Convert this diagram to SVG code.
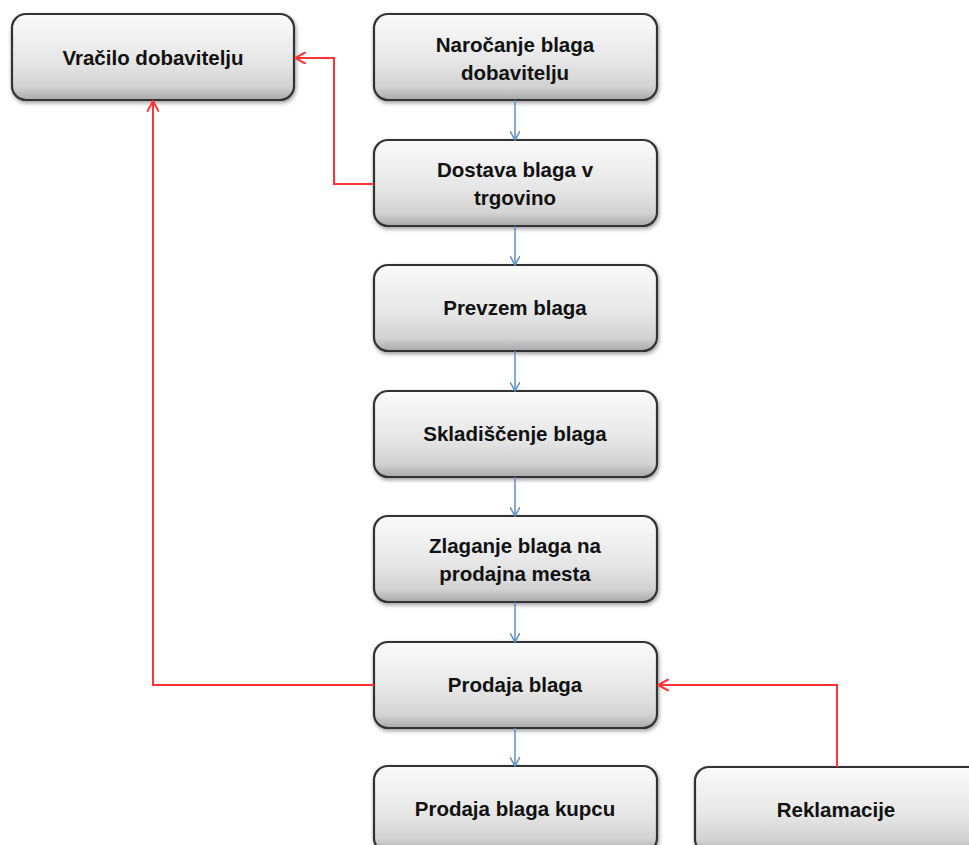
<svg xmlns="http://www.w3.org/2000/svg" width="969" height="845" viewBox="0 0 969 845">
<defs>
<linearGradient id="g" x1="0" y1="0" x2="0" y2="1">
<stop offset="0" stop-color="#fafafa"/>
<stop offset="0.55" stop-color="#e6e6e6"/>
<stop offset="0.85" stop-color="#d2d2d2"/>
<stop offset="1" stop-color="#a8a8a8"/>
</linearGradient>
<filter id="sh" x="-5%" y="-10%" width="115%" height="130%">
<feGaussianBlur in="SourceAlpha" stdDeviation="2"/>
<feOffset dx="1" dy="2"/>
<feComponentTransfer><feFuncA type="linear" slope="0.4"/></feComponentTransfer>
<feMerge><feMergeNode/><feMergeNode in="SourceGraphic"/></feMerge>
</filter>
<marker id="ab" viewBox="0 0 10 10" refX="9" refY="5" markerWidth="10" markerHeight="10" markerUnits="userSpaceOnUse" orient="auto">
<path d="M0,0 L9,5 L0,10" fill="none" stroke="#5b8ec9" stroke-width="1.5"/>
</marker>
<marker id="ar" viewBox="0 0 12 12" refX="11" refY="6" markerWidth="12" markerHeight="12" markerUnits="userSpaceOnUse" orient="auto">
<path d="M0,0 L11,6 L0,12" fill="none" stroke="#ff3333" stroke-width="2"/>
</marker>
</defs>
<style>
.box{fill:url(#g);stroke:#333;stroke-width:2.2;filter:url(#sh)}
.t{font-family:"Liberation Sans",Arial,sans-serif;font-weight:bold;font-size:20.5px;fill:#111;text-anchor:middle}
.blue{stroke:#5b8ec9;stroke-width:1.5;fill:none;marker-end:url(#ab)}
.red{stroke:#ff3333;stroke-width:2;fill:none;marker-end:url(#ar)}
</style>
<rect width="969" height="845" fill="#fff"/>
<g id="n-vracilo"><rect class="box" x="12" y="14" width="282" height="86" rx="14"/><text class="t" x="153" y="65">Vračilo dobavitelju</text></g>
<g id="n-narocanje"><rect class="box" x="374" y="14" width="283" height="86" rx="14"/><text class="t" x="515" y="52">Naročanje blaga</text><text class="t" x="515" y="80">dobavitelju</text></g>
<g id="n-dostava"><rect class="box" x="374" y="140" width="283" height="86" rx="14"/><text class="t" x="515" y="177">Dostava blaga v</text><text class="t" x="515" y="205">trgovino</text></g>
<g id="n-prevzem"><rect class="box" x="374" y="265" width="283" height="86" rx="14"/><text class="t" x="515" y="315">Prevzem blaga</text></g>
<g id="n-skladiscenje"><rect class="box" x="374" y="391" width="283" height="86" rx="14"/><text class="t" x="515" y="441">Skladiščenje blaga</text></g>
<g id="n-zlaganje"><rect class="box" x="374" y="516" width="283" height="86" rx="14"/><text class="t" x="515" y="553">Zlaganje blaga na</text><text class="t" x="515" y="581">prodajna mesta</text></g>
<g id="n-prodaja"><rect class="box" x="374" y="642" width="283" height="86" rx="14"/><text class="t" x="515" y="692">Prodaja blaga</text></g>
<g id="n-kupcu"><rect class="box" x="374" y="766" width="283" height="86" rx="14"/><text class="t" x="515" y="816">Prodaja blaga kupcu</text></g>
<g id="n-reklamacije"><rect class="box" x="695" y="767" width="290" height="86" rx="14"/><text class="t" x="836" y="817">Reklamacije</text></g>
<g id="connectors">
<path class="blue" d="M515,100 V140"/>
<path class="blue" d="M515,226 V265"/>
<path class="blue" d="M515,351 V391"/>
<path class="blue" d="M515,477 V516"/>
<path class="blue" d="M515,602 V642"/>
<path class="blue" d="M515,728 V766"/>
<path class="red" d="M374,184 H334 V58 H295"/>
<path class="red" d="M374,685 H153 V101"/>
<path class="red" d="M837,767 V685 H658"/>
</g>
</svg>
